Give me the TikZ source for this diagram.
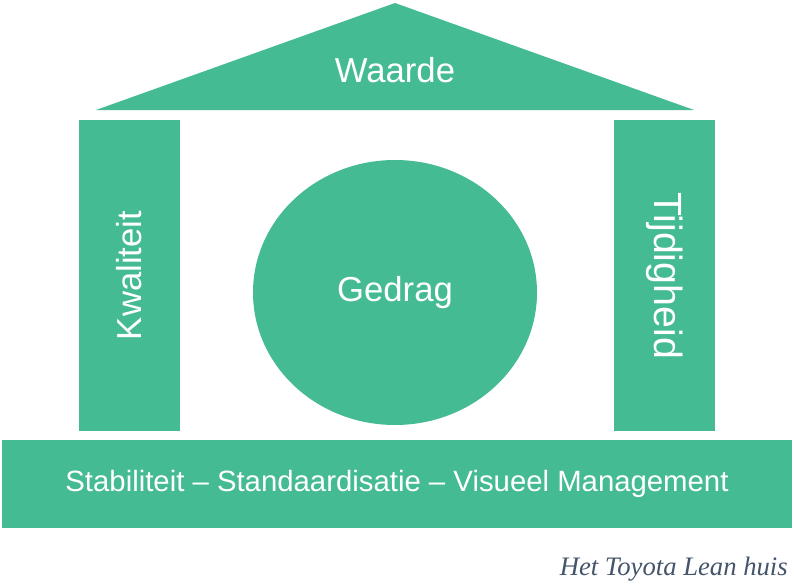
\documentclass[tikz,border=0pt]{standalone}
\usepackage{fontspec}
\setmainfont{Liberation Serif}
\setsansfont{Liberation Sans}
\usetikzlibrary{shapes.geometric}
\definecolor{huisgroen}{HTML}{45BB94}
\definecolor{onderschrift}{HTML}{44546A}
\tikzset{
  blok/.style={fill=huisgroen, draw=none, inner sep=0pt, text=white, font=\sffamily\fontsize{26}{30}\selectfont},
}
\begin{document}
\begin{tikzpicture}[x=0.75pt,y=-0.75pt]
\useasboundingbox (0,0) rectangle (794,586);
% dak
\fill[huisgroen] (96,110) -- (395,3) -- (694,110) -- cycle;
\node[text=white, font=\sffamily\fontsize{26}{30}\selectfont] (waarde) at (395,70) {Waarde};
% pilaren
\node[blok, rotate=90, minimum width=233.25pt, minimum height=75.75pt] (kwaliteit) at (129.5,275.5) {Kwaliteit};
\node[blok, rotate=-90, minimum width=233.25pt, minimum height=75.75pt, font=\sffamily\fontsize{29.5}{34}\selectfont] (tijdigheid) at (664.5,275.5) {Tijdigheid};
% midden
\node[blok, ellipse, minimum width=213pt, minimum height=198.75pt] (gedrag) at (395,292.5) {Gedrag};
% fundament
\node[blok, minimum width=592.5pt, minimum height=66pt, font=\sffamily\fontsize{22}{26}\selectfont] (fundament) at (397,484) {Stabiliteit -- Standaardisatie -- Visueel Management};
\node[anchor=east, text=onderschrift, inner sep=0pt, font=\itshape\fontsize{20}{24}\selectfont] (bijschrift) at (788,569) {Het Toyota Lean huis};
\end{tikzpicture}
\end{document}
